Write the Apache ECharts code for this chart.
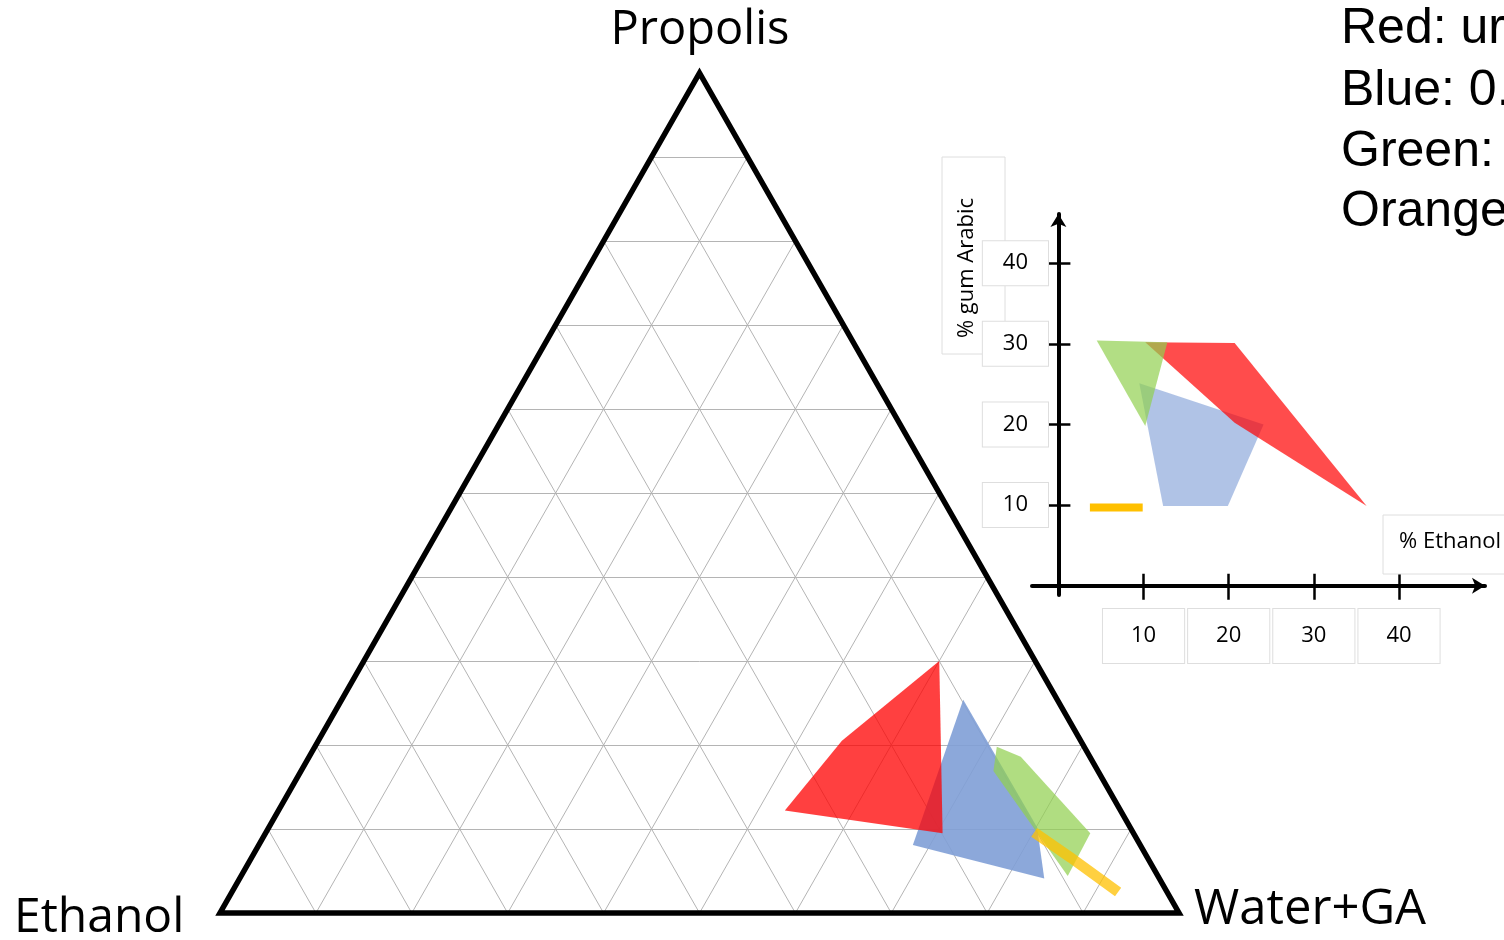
<!DOCTYPE html>
<html>
<head>
<meta charset="utf-8">
<script src="https://cdn.jsdelivr.net/npm/echarts@6/dist/echarts.min.js"></script>
<style>html,body{margin:0;padding:0;background:#fff}#chart{width:1504px;height:940px}</style>
</head>
<body>
<div id="chart"></div>
<script>
// ---------- DATA ----------
// Ternary grid ticks (%)
const ternaryTicks = [10, 20, 30, 40, 50, 60, 70, 80, 90];
// Ternary vertices: [propolis, ethanol, water+GA] (%)
const ternaryCorners = [[0, 100, 0], [0, 0, 100], [100, 0, 0]];
const vertexLabels = ['Propolis', 'Ethanol', 'Water+GA'];
// Ternary regions: [propolis, ethanol, water+GA] (%)
const ternaryBlue = [[25.4, 9.8, 64.8], [10.2, 9.7, 80.1], [4.1, 12.0, 83.9], [8.1, 23.7, 68.2]];
const ternaryRed = [[30.0, 10.0, 60.0], [20.5, 24.9, 54.6], [12.2, 35.0, 52.8], [9.5, 19.9, 70.6]];
const ternaryGreen = [[19.8, 9.1, 71.1], [18.6, 7.2, 74.2], [9.5, 4.5, 86.0], [4.4, 9.4, 86.2], [16.9, 10.9, 72.2]];
const ternaryOrange = [[9.6, 10.3, 80.1], [6.6, 8.0, 85.4], [2.5, 5.1, 92.4]];
// Inset: [% ethanol, % gum arabic]
const insetTicks = [10, 20, 30, 40];
const insetBlue = [[9.5, 25.1], [24.1, 20.0], [19.9, 9.9], [12.3, 9.9]];
const insetRed = [[10.2, 30.2], [20.7, 30.1], [36.2, 9.9], [20.7, 20.2]];
const insetGreen = [[4.5, 30.4], [12.8, 30.2], [10.2, 19.8]];
const insetOrange = [[3.7, 9.7], [9.9, 9.7]];
const insetXName = '% Ethanol';
const insetYName = '% gum Arabic';
const legendLines = ['Red: ur', 'Blue: 0.', 'Green:', 'Orange'];

// ---------- HELPERS ----------
function toXY(t) { // [p, e, w] -> cartesian in unit triangle
  return [t[2] / 100 + t[0] / 200, t[0] / 100];
}
const gridSegs = [];
ternaryTicks.forEach(v => {
  gridSegs.push([[v, 100 - v, 0], [v, 0, 100 - v]]);
  gridSegs.push([[0, 100 - v, v], [100 - v, 0, v]]);
  gridSegs.push([[0, v, 100 - v], [100 - v, v, 0]]);
});

function shapeSeries(pts, gi, style, z, kind) {
  return {
    type: 'custom', xAxisIndex: gi, yAxisIndex: gi, z: z, silent: true,
    data: pts,
    renderItem: function (params, api) {
      if (params.dataIndex !== 0) return null;
      const points = pts.map(p => api.coord(p));
      return { type: kind || 'polygon', shape: { points: points }, style: style };
    }
  };
}

const outline = ternaryCorners.map(toXY);
const labelFont = '"Open Sans", sans-serif';

const chart = echarts.init(document.getElementById('chart'), null, { renderer: 'canvas' });
const option = {
  backgroundColor: '#ffffff',
  animation: false,
  grid: [
    { left: 220, top: 73, width: 959, height: 840, outerBoundsMode: 'none', containLabel: false },
    { left: 1032, top: 214, width: 453, height: 381, outerBoundsMode: 'none', containLabel: false }
  ],
  xAxis: [
    { gridIndex: 0, type: 'value', min: 0, max: 1, show: false },
    { gridIndex: 1, type: 'value', min: -3.1, max: 50.1, position: 'bottom',
      axisLine: { show: true, onZero: true, onZeroAxisIndex: 1, symbol: ['none', 'arrow'], symbolSize: [12, 13],
        lineStyle: { color: '#000', width: 4 } },
      axisTick: { show: true, customValues: insetTicks, length: 14, lineStyle: { color: '#000', width: 2.5 } },
      splitLine: { show: false },
      axisLabel: { show: true, customValues: insetTicks, margin: 14, color: '#000', fontSize: 22,
        fontFamily: labelFont, backgroundColor: '#fff', borderColor: '#dedede', borderWidth: 1,
        showMinLabel: true, showMaxLabel: true, hideOverlap: false,
        padding: [16, 28, 16, 28] } },
    { gridIndex: 1, type: 'value', min: -3.1, max: 50.1, position: 'top',
      axisLine: { show: false, onZero: true, onZeroAxisIndex: 1 },
      axisTick: { show: true, customValues: insetTicks, length: 12, lineStyle: { color: '#000', width: 2.5 } },
      splitLine: { show: false }, axisLabel: { show: false } }
  ],
  yAxis: [
    { gridIndex: 0, type: 'value', min: 0, max: 1, show: false },
    { gridIndex: 1, type: 'value', min: -1.15, max: 46.1, position: 'left',
      axisLine: { show: true, onZero: true, onZeroAxisIndex: 1, symbol: ['none', 'arrow'], symbolSize: [12, 13],
        lineStyle: { color: '#000', width: 4 } },
      axisTick: { show: true, customValues: insetTicks, length: 10, lineStyle: { color: '#000', width: 2.5 } },
      splitLine: { show: false },
      axisLabel: { show: true, customValues: insetTicks, margin: -16, color: '#000', fontSize: 22,
        fontFamily: labelFont, backgroundColor: '#fff', borderColor: '#dedede', borderWidth: 1,
        showMinLabel: true, showMaxLabel: true, hideOverlap: false,
        padding: [11, 20, 11, 20] } },
    { gridIndex: 1, type: 'value', min: -1.15, max: 46.1, position: 'right',
      axisLine: { show: false, onZero: true, onZeroAxisIndex: 1 },
      axisTick: { show: true, customValues: insetTicks, length: 12, lineStyle: { color: '#000', width: 2.5 } },
      splitLine: { show: false }, axisLabel: { show: false } }
  ],
  series: [
    {
      type: 'lines', coordinateSystem: 'cartesian2d', xAxisIndex: 0, yAxisIndex: 0, z: 1, silent: true,
      data: gridSegs.map(s => ({ coords: s.map(toXY) })),
      lineStyle: { color: '#b4b4b4', width: 1, opacity: 1, curveness: 0 }
    },
    shapeSeries(ternaryBlue.map(toXY), 0, { fill: 'rgba(128,158,214,0.9)' }, 2),
    shapeSeries(ternaryRed.map(toXY), 0, { fill: 'rgba(255,0,0,0.75)' }, 3),
    shapeSeries(ternaryGreen.map(toXY), 0, { fill: 'rgba(146,208,80,0.72)' }, 4),
    shapeSeries(ternaryOrange.map(toXY), 0, { fill: 'none', stroke: 'rgba(255,192,0,0.75)', lineWidth: 10.5 }, 5, 'polyline'),
    shapeSeries(outline, 0, { fill: 'none', stroke: '#000', lineWidth: 5.5, lineJoin: 'miter', miterLimit: 10 }, 6),
    shapeSeries(insetBlue, 1, { fill: 'rgba(143,170,220,0.7)' }, 2),
    shapeSeries(insetRed, 1, { fill: 'rgba(255,0,0,0.7)' }, 3),
    shapeSeries(insetGreen, 1, { fill: 'rgba(146,208,80,0.7)' }, 4),
    shapeSeries(insetOrange, 1, { fill: 'none', stroke: '#ffc000', lineWidth: 8 }, 5, 'polyline')
  ],
  graphic: [
    { type: 'text', x: 700, y: 31, z: 10,
      style: { text: vertexLabels[0], font: '47px "Open Sans"', fill: '#000', align: 'center', verticalAlign: 'middle' } },
    { type: 'text', x: 14, y: 918, z: 10,
      style: { text: vertexLabels[1], font: '48px "Open Sans"', fill: '#000', align: 'left', verticalAlign: 'middle' } },
    { type: 'text', x: 1194, y: 910, z: 10,
      style: { text: vertexLabels[2], font: '49px "Open Sans"', fill: '#000', align: 'left', verticalAlign: 'middle' } },
    { type: 'rect', x: 942, y: 157, z: -1, shape: { width: 63, height: 197 },
      style: { fill: '#fff', stroke: '#dedede', lineWidth: 1 } },
    { type: 'text', x: 967, y: 268, z: 21, rotation: Math.PI / 2,
      style: { text: insetYName, font: '22px "Open Sans"', fill: '#000', align: 'center', verticalAlign: 'middle' } },
    { type: 'rect', x: 1383, y: 515, z: 20, shape: { width: 140, height: 59 },
      style: { fill: '#fff', stroke: '#dedede', lineWidth: 1 } },
    { type: 'text', x: 1399, y: 542, z: 21,
      style: { text: insetXName, font: '22px "Open Sans"', fill: '#000', align: 'left', verticalAlign: 'middle' } }
  ].concat(legendLines.map((t, i) => ({
    type: 'text', x: 1341, y: [29, 91, 152, 212][i], z: 10,
    style: { text: t, font: '50px "Liberation Sans"', fill: '#000', align: 'left', verticalAlign: 'middle' }
  })))
};
chart.setOption(option);
</script>
</body>
</html>
